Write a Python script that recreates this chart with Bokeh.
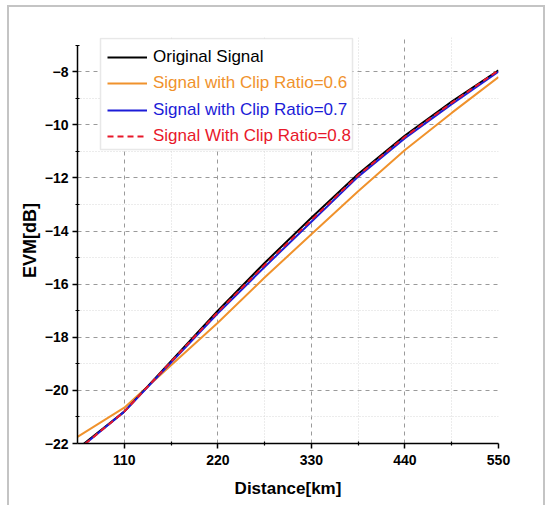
from bokeh.plotting import figure
from bokeh.models import Range1d, FixedTicker, Legend, LegendItem, BoxAnnotation
from bokeh.embed import file_html
from bokeh.resources import INLINE

# ---- data ----
distance = [55, 110, 165, 220, 275, 330, 385, 440, 495, 550]
evm_original = [-22.2, -20.8, -18.9, -17.0, -15.2, -13.5, -11.85, -10.4, -9.12, -7.95]
evm_clip06 = [-21.75, -20.65, -19.05, -17.45, -15.75, -14.12, -12.5, -10.95, -9.55, -8.2]
evm_clip07 = [-22.25, -20.8, -18.95, -17.1, -15.35, -13.65, -11.95, -10.5, -9.22, -8.0]
evm_clip08 = [-22.25, -20.8, -18.92, -17.05, -15.28, -13.58, -11.9, -10.45, -9.17, -7.95]

labels = ["Original Signal", "Signal with Clip Ratio=0.6",
          "Signal with Clip Ratio=0.7", "Signal With Clip Ratio=0.8"]

x_ticks = [110, 220, 330, 440, 550]
x_minor = [165, 275, 385, 495]
y_ticks = [-22, -20, -18, -16, -14, -12, -10, -8]
y_minor = [-21, -19, -17, -15, -13, -11, -9, -7]

SANS = "Liberation Sans"

p = figure(frame_width=421, frame_height=406,
           min_border_left=68, min_border_right=45,
           min_border_top=30, min_border_bottom=62,
           x_range=Range1d(55, 550), y_range=Range1d(-22, -6.71),
           output_backend="svg", toolbar_location=None,
           background_fill_color="white", border_fill_color="white")
p.outline_line_color = None
p.styles = {"border": "2px solid #c4c4c4", "box-sizing": "border-box",
            "overflow": "hidden", "margin": "5px 0px 0px 7px"}

# axes
for ax in (p.xaxis[0], p.yaxis[0]):
    ax.axis_line_color = "black"
    ax.axis_line_width = 1.5
    ax.major_tick_line_color = "black"
    ax.major_tick_line_width = 1.5
    ax.major_tick_in = 0
    ax.major_tick_out = 5
    ax.minor_tick_line_color = "black"
    ax.minor_tick_line_width = 1.2
    ax.minor_tick_in = 2
    ax.minor_tick_out = 2
    ax.major_label_text_font = SANS
    ax.major_label_text_font_style = "bold"
    ax.major_label_text_font_size = "14px"
    ax.major_label_text_color = "black"
    ax.axis_label_text_font = SANS
    ax.axis_label_text_font_style = "bold"
    ax.axis_label_text_color = "black"

p.xaxis.ticker = FixedTicker(ticks=x_ticks, minor_ticks=x_minor)
p.yaxis.ticker = FixedTicker(ticks=y_ticks, minor_ticks=y_minor)
p.yaxis.bounds = (-22, -7)
p.xaxis.major_label_standoff = 6
p.yaxis.major_label_standoff = 4

p.xaxis.axis_label = "Distance[km]"
p.xaxis.axis_label_text_font_size = "17px"
p.xaxis.axis_label_standoff = 11
p.yaxis.axis_label = "EVM[dB]"
p.yaxis.axis_label_text_font_size = "18px"
p.yaxis.axis_label_standoff = 2

# grids
p.xgrid.ticker = FixedTicker(ticks=[110, 220, 330, 440], minor_ticks=x_minor)
p.ygrid.ticker = FixedTicker(ticks=[-20, -18, -16, -14, -12, -10, -8],
                             minor_ticks=[-21, -19, -17, -15, -13, -11, -9])
for g in (p.xgrid[0], p.ygrid[0]):
    g.grid_line_color = "#9a9a9a"
    g.grid_line_dash = "4 4"
    g.grid_line_width = 1
    g.minor_grid_line_color = "#d8d8d8"
    g.minor_grid_line_dash = "1 2"
    g.minor_grid_line_width = 1

# lines
c_black, c_orange, c_blue, c_red = "#000000", "#f0922c", "#1c1cd8", "#e8182a"
r06 = p.line(distance, evm_clip06, line_color=c_orange, line_width=2)
r0 = p.line(distance, evm_original, line_color=c_black, line_width=2)
r07 = p.line(distance, evm_clip07, line_color=c_blue, line_width=2)
r08 = p.line(distance, evm_clip08, line_color=c_red, line_width=2, line_dash="6 4")

# legend box
box = BoxAnnotation(left=23, right=275, bottom=294, top=405,
                    left_units="screen", right_units="screen",
                    bottom_units="screen", top_units="screen",
                    fill_color="white", fill_alpha=1.0,
                    line_color="#b4b4b4", line_width=1.5)
p.add_layout(box)

rows = [(r0, c_black, 374.3), (r06, c_orange, 348.0),
        (r07, c_blue, 321.3), (r08, c_red, 295.0)]
for (r, col, vy), lab in zip(rows, labels):
    leg = Legend(items=[LegendItem(label=lab, renderers=[r])],
                 location=(30, vy), padding=0, margin=0, spacing=0,
                 border_line_color=None, background_fill_alpha=0,
                 glyph_width=40, glyph_height=24, label_height=24,
                 label_standoff=6, label_text_font=SANS,
                 label_text_font_size="17px", label_text_color=col)
    p.add_layout(leg)

open("out.html", "w").write(file_html(p, INLINE))
